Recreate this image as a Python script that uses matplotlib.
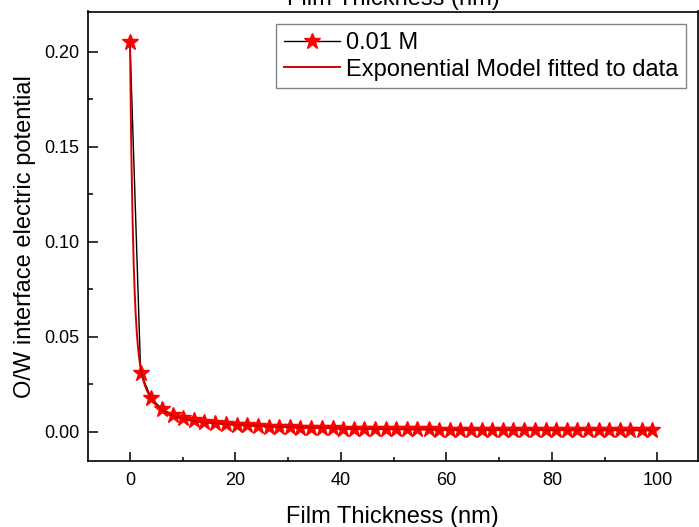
import numpy as np
import matplotlib
matplotlib.use("Agg")
import matplotlib.pyplot as plt
from matplotlib.ticker import MultipleLocator, FormatStrFormatter

plt.rcParams["font.family"] = ["Liberation Sans", "DejaVu Sans"]

# Film thickness (nm) and O/W interface electric potential for 0.01 M
thickness = [0.0, 2.02, 4.04, 6.06, 8.08, 10.1, 12.1, 14.1, 16.2, 18.2,
             20.2, 22.2, 24.2, 26.3, 28.3, 30.3, 32.3, 34.3, 36.4, 38.4,
             40.4, 42.4, 44.4, 46.5, 48.5, 50.5, 52.5, 54.5, 56.6, 58.6,
             60.6, 62.6, 64.6, 66.7, 68.7, 70.7, 72.7, 74.7, 76.8, 78.8,
             80.8, 82.8, 84.8, 86.9, 88.9, 90.9, 92.9, 94.9, 97.0, 99.0]
potential = [0.205, 0.0310, 0.0175, 0.0120, 0.0090, 0.0071, 0.0060, 0.0052, 0.0045, 0.0040,
             0.0036, 0.0033, 0.0030, 0.0027, 0.0025, 0.0023, 0.0022, 0.0020, 0.0019, 0.0018,
             0.0017, 0.0016, 0.0015, 0.0015, 0.0014, 0.0013, 0.0013, 0.0012, 0.0012, 0.0011,
             0.0011, 0.0011, 0.0010, 0.0010, 0.0010, 0.0009, 0.0009, 0.0009, 0.0009, 0.0009,
             0.0008, 0.0008, 0.0008, 0.0008, 0.0008, 0.0008, 0.0008, 0.0007, 0.0007, 0.0007]

# Multi-exponential decay model parameters: y0 + sum(A_i * exp(-x / t_i))
fit_y0 = 0.0007
fit_amplitudes = [0.157, 0.040, 0.0076]
fit_decays = [0.6, 3.0, 20.7]

x_fit = np.linspace(0, 99, 2000)
y_fit = fit_y0 + sum(a * np.exp(-x_fit / t) for a, t in zip(fit_amplitudes, fit_decays))

fig = plt.figure(figsize=(6.99, 5.27), dpi=100)
ax = fig.add_axes([87.5 / 699, 66 / 527, 610.5 / 699, 449.5 / 527])

ax.plot(thickness, potential, color="black", lw=1.0, marker="*", markersize=12,
        markerfacecolor="red", markeredgecolor="red", label="0.01 M", zorder=3)
ax.plot(x_fit, y_fit, color="#d40000", lw=1.4, label="Exponential Model fitted to data", zorder=4)

ax.set_xlim(-8.06, 107.7)
ax.set_ylim(-0.0154, 0.2212)
ax.xaxis.set_major_locator(MultipleLocator(20))
ax.xaxis.set_minor_locator(MultipleLocator(10))
ax.yaxis.set_major_locator(MultipleLocator(0.05))
ax.yaxis.set_minor_locator(MultipleLocator(0.025))
ax.yaxis.set_major_formatter(FormatStrFormatter("%.2f"))

ax.tick_params(axis="both", which="both", direction="in", top=False, right=False,
               labelsize=13, width=1.1, colors="black")
ax.tick_params(axis="x", which="major", length=6.2, pad=8)
ax.tick_params(axis="x", which="minor", length=3.2)
ax.tick_params(axis="y", which="major", length=7.5, pad=6)
ax.tick_params(axis="y", which="minor", length=3.8)
for sp in ax.spines.values():
    sp.set_linewidth(1.2)

ax.set_xlabel("Film Thickness (nm)", fontsize=17, labelpad=12)
ax.set_ylabel("O/W interface electric potential", fontsize=17, labelpad=6)

# axis title echoed along the top edge
fig.text(0.5625, 1 - 5 / 527, "Film Thickness (nm)", fontsize=17,
         ha="center", va="baseline")

leg = ax.legend(loc="upper right", bbox_to_anchor=(685.7 / 699, 1 - 24 / 527),
                bbox_transform=fig.transFigure, fontsize=17, frameon=True,
                fancybox=False, borderpad=0.33, handlelength=2.35,
                handletextpad=0.25, labelspacing=0.2, borderaxespad=0)
leg.get_frame().set_edgecolor("#666666")
leg.get_frame().set_linewidth(1.0)

fig.savefig("out.png", dpi=100)
